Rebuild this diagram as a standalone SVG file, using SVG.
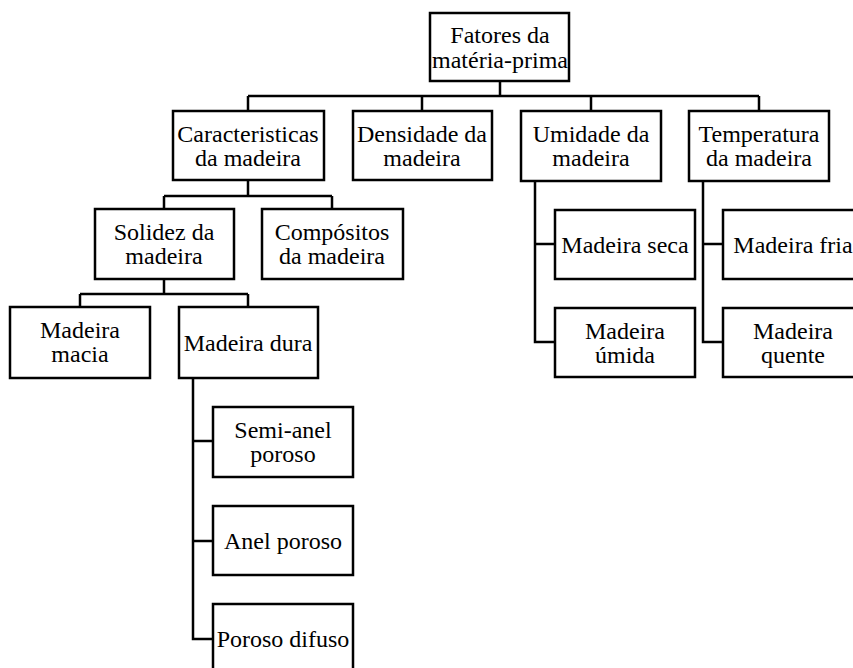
<svg xmlns="http://www.w3.org/2000/svg" width="853" height="668" viewBox="0 0 853 668">
<style>
.box{fill:#fff;stroke:#000;stroke-width:2.5}
.lnk{fill:none;stroke:#000;stroke-width:2.5}
.t{font-size:24px;fill:#000;text-anchor:middle}
</style>
<rect width="853" height="668" fill="#fff"/>
<g id="connectors">
<path class="lnk" d="M500,81V96M248,96H759M248,96V111M422,96V111M591,96V111M759,96V111"/>
<path class="lnk" d="M248,180V196M164,196H332M164,196V209M332,196V209"/>
<path class="lnk" d="M164,279V294M80,294H248M80,294V307M248,294V307"/>
<path class="lnk" d="M193,378V639H213M193,441H213M193,541H213"/>
<path class="lnk" d="M535,181V342H555M535,244H555"/>
<path class="lnk" d="M703,181V342H723M703,244H723"/>
</g>
<g id="nodes" class="t" font-family="Liberation Serif, Times New Roman, serif">
<g id="root"><rect class="box" x="430" y="13" width="139" height="68"/><text x="500" y="43">Fatores da</text><text x="500" y="68">matéria-prima</text></g>
<g id="caracteristicas"><rect class="box" x="173" y="111" width="151" height="69"/><text x="248" y="142">Caracteristicas</text><text x="248" y="166">da madeira</text></g>
<g id="densidade"><rect class="box" x="353" y="111" width="139" height="69"/><text x="422" y="142">Densidade da</text><text x="422" y="166">madeira</text></g>
<g id="umidade"><rect class="box" x="521" y="111" width="140" height="70"/><text x="591" y="142">Umidade da</text><text x="591" y="166">madeira</text></g>
<g id="temperatura"><rect class="box" x="689" y="111" width="140" height="70"/><text x="759" y="142">Temperatura</text><text x="759" y="166">da madeira</text></g>
<g id="solidez"><rect class="box" x="95" y="209" width="139" height="70"/><text x="164" y="240">Solidez da</text><text x="164" y="264">madeira</text></g>
<g id="compositos"><rect class="box" x="262" y="209" width="141" height="70"/><text x="332" y="240">Compósitos</text><text x="332" y="264">da madeira</text></g>
<g id="macia"><rect class="box" x="10" y="307" width="140" height="71"/><text x="80" y="338">Madeira</text><text x="80" y="362">macia</text></g>
<g id="dura"><rect class="box" x="179" y="307" width="139" height="71"/><text x="248" y="351">Madeira dura</text></g>
<g id="semianel"><rect class="box" x="213" y="407" width="140" height="70"/><text x="283" y="438">Semi-anel</text><text x="283" y="462">poroso</text></g>
<g id="anel"><rect class="box" x="213" y="506" width="140" height="69"/><text x="283" y="549">Anel poroso</text></g>
<g id="difuso"><rect class="box" x="213" y="604" width="140" height="70"/><text x="283" y="647">Poroso difuso</text></g>
<g id="seca"><rect class="box" x="555" y="210" width="140" height="69"/><text x="625" y="253">Madeira seca</text></g>
<g id="umida"><rect class="box" x="555" y="308" width="140" height="69"/><text x="625" y="339">Madeira</text><text x="625" y="363">úmida</text></g>
<g id="fria"><rect class="box" x="723" y="210" width="140" height="69"/><text x="793" y="253">Madeira fria</text></g>
<g id="quente"><rect class="box" x="723" y="308" width="140" height="69"/><text x="793" y="339">Madeira</text><text x="793" y="363">quente</text></g>
</g>
</svg>
